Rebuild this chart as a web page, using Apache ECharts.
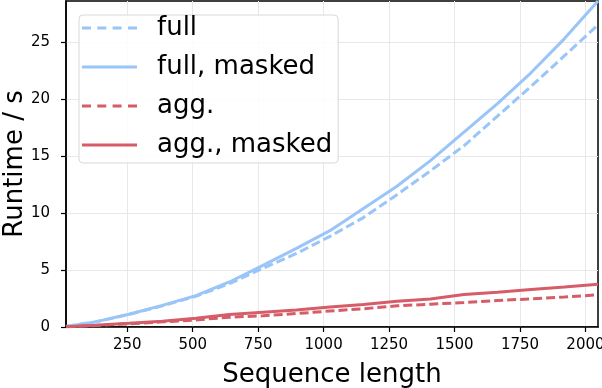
<!DOCTYPE html>
<html>
<head>
<meta charset="utf-8">
<script src="https://cdn.jsdelivr.net/npm/echarts@6/dist/echarts.min.js"></script>
<style>
  html, body { margin: 0; padding: 0; background: #fff; }
  #chart { width: 602px; height: 388px; }
</style>
</head>
<body>
<div id="chart"></div>
<script>
// sequence lengths
var seqLen = [16, 128, 256, 384, 512, 640, 768, 896, 1024, 1152, 1280, 1408, 1536, 1664, 1792, 1920, 2048];
// runtimes in seconds
var fullData       = [0.05, 0.45, 1.1, 1.85, 2.7, 3.8, 5.15, 6.45, 7.95, 9.6, 11.6, 13.7, 15.9, 18.5, 21.1, 23.8, 26.5];
var fullMaskedData = [0.05, 0.45, 1.12, 1.9, 2.75, 3.95, 5.4, 6.9, 8.45, 10.4, 12.35, 14.6, 17.1, 19.6, 22.3, 25.3, 28.6];
var aggData        = [0.02, 0.13, 0.28, 0.45, 0.62, 0.86, 0.98, 1.18, 1.4, 1.6, 1.86, 2.0, 2.15, 2.32, 2.47, 2.63, 2.82];
var aggMaskedData  = [0.02, 0.15, 0.32, 0.5, 0.76, 1.1, 1.3, 1.5, 1.75, 1.98, 2.25, 2.45, 2.85, 3.05, 3.3, 3.5, 3.76];
var xTicks = [250, 500, 750, 1000, 1250, 1500, 1750, 2000];
var yTicks = [0, 5, 10, 15, 20, 25];

var blue = '#99c5f8';
var red = '#d65d68';
var font = 'DejaVu Sans';

// legend glyphs (matplotlib-like line samples)
var solidIcon = 'path://M0,0h55v3h-55z';
var dashIcon = 'path://M0,0h9v3h-9z M15.3,0h9v3h-9z M30.6,0h9v3h-9z M46,0h9v3h-9z';

function pairs(ys) {
    return seqLen.map(function (x, i) { return [x, ys[i]]; });
}

function mkSeries(name, ys, color, dashed) {
    return {
        name: name,
        type: 'line',
        data: pairs(ys),
        symbol: 'none',
        smooth: false,
        animation: false,
        lineStyle: { color: color, width: 3, type: dashed ? [9, 4] : 'solid' },
        itemStyle: { color: color }
    };
}

var myChart = echarts.init(document.getElementById('chart'));
var option = {
    backgroundColor: '#fff',
    animation: false,
    grid: {
        left: 66, right: 4, top: 1, bottom: 61,
        show: true,
        borderColor: '#000',
        borderWidth: 1.5,
        containLabel: false,
        outerBoundsMode: 'none'
    },
    legend: {
        left: 79, top: 15,
        orient: 'vertical',
        itemWidth: 55,
        itemHeight: 3,
        itemGap: 13,
        padding: [0, 6, 5, 3],
        backgroundColor: 'rgba(255,255,255,0.85)',
        borderColor: '#d8d8d8',
        borderWidth: 1,
        borderRadius: 4,
        textStyle: { fontFamily: font, fontSize: 26, color: '#000', lineHeight: 26, padding: [0, 0, 0, 15] },
        data: [
            { name: 'full', icon: dashIcon, itemStyle: { color: blue } },
            { name: 'full, masked', icon: solidIcon, itemStyle: { color: blue } },
            { name: 'agg.', icon: dashIcon, itemStyle: { color: red } },
            { name: 'agg., masked', icon: solidIcon, itemStyle: { color: red } }
        ]
    },
    xAxis: {
        type: 'value',
        min: 16,
        max: 2048,
        name: 'Sequence length',
        nameLocation: 'middle',
        nameMoveOverlap: false,
        nameGap: 35,
        nameTextStyle: { fontFamily: font, fontSize: 26, color: '#000' },
        axisLine: { show: true, lineStyle: { color: '#000', width: 1.5 } },
        axisTick: { show: true, length: 5, customValues: xTicks, lineStyle: { color: '#000', width: 1.2 } },
        axisLabel: {
            customValues: xTicks, margin: 11, fontFamily: font, fontSize: 15, color: '#000',
            formatter: function (v) { return String(v); }
        },
        splitLine: { show: true, lineStyle: { color: '#e8e8e8', width: 1 } }
    },
    yAxis: {
        type: 'value',
        min: 0,
        max: 28.6,
        name: 'Runtime / s',
        nameLocation: 'middle',
        nameMoveOverlap: false,
        nameGap: 38,
        nameTextStyle: { fontFamily: font, fontSize: 26, color: '#000' },
        axisLine: { show: true, lineStyle: { color: '#000', width: 1.5 } },
        axisTick: { show: true, length: 5, customValues: yTicks, lineStyle: { color: '#000', width: 1.2 } },
        axisLabel: {
            customValues: yTicks, margin: 16, fontFamily: font, fontSize: 15, color: '#000',
            formatter: function (v) { return String(v); }
        },
        splitLine: { show: true, lineStyle: { color: '#e8e8e8', width: 1 } }
    },
    series: [
        mkSeries('full', fullData, blue, true),
        mkSeries('full, masked', fullMaskedData, blue, false),
        mkSeries('agg.', aggData, red, true),
        mkSeries('agg., masked', aggMaskedData, red, false)
    ]
};
myChart.setOption(option);
</script>
</body>
</html>
